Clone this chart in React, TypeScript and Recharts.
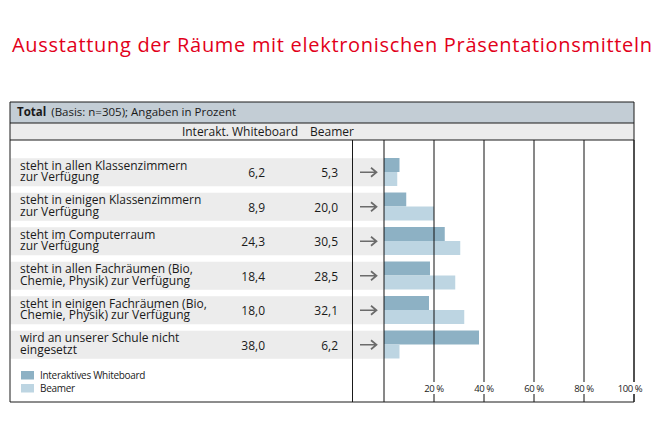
import { BarChart, Bar, XAxis, YAxis } from 'recharts';

const categories = [
  'steht in allen Klassenzimmern\nzur Verfügung',
  'steht in einigen Klassenzimmern\nzur Verfügung',
  'steht im Computerraum\nzur Verfügung',
  'steht in allen Fachräumen (Bio,\nChemie, Physik) zur Verfügung',
  'steht in einigen Fachräumen (Bio,\nChemie, Physik) zur Verfügung',
  'wird an unserer Schule nicht\neingesetzt',
];
const whiteboard = [6.2, 8.9, 24.3, 18.4, 18.0, 38.0];
const beamer = [5.3, 20.0, 30.5, 28.5, 32.1, 6.2];
const seriesNames = ['Interaktives Whiteboard', 'Beamer'];
const seriesColors = ['#8db1c4', '#bdd5e2'];
const columnHeads = ['Interakt. Whiteboard', 'Beamer'];
const xTicks = [0, 20, 40, 60, 80, 100];

const title = 'Ausstattung der Räume mit elektronischen Präsentationsmitteln';
const FONT = '"Open Sans", "Noto Sans", sans-serif';

const data = categories.map((label, i) => ({
  label,
  whiteboard: whiteboard[i],
  beamer: beamer[i],
}));

const fmt = (v: number) => v.toFixed(1).replace('.', ',');

// row label + values + arrow, drawn on the category tick
function RowTick(props: any) {
  const { y, payload } = props;
  const i = props.index ?? payload.index ?? 0;
  const lines = String(payload.value).split('\n');
  return (
    <g fontFamily={FONT}>
      <rect x={10.5} y={y - 14} width={373} height={28} fill="#ececec" />
      {lines.map((l, k) => (
        <text key={k} x={20} y={y - 2.5 + k * 11.5} fontSize={12} fill="#1a1a1a">{l}</text>
      ))}
      <text x={265} y={y + 5} fontSize={12} fill="#1a1a1a" textAnchor="end">
        {fmt(whiteboard[i])}
      </text>
      <text x={338} y={y + 5} fontSize={12} fill="#1a1a1a" textAnchor="end">
        {fmt(beamer[i])}
      </text>
      <path
        d={`M360,${y} H376 M371,${y - 4.5} L376.5,${y} L371,${y + 4.5}`}
        stroke="#6b6b6b"
        strokeWidth={1.7}
        fill="none"
      />
    </g>
  );
}

// full height grid line with the percent label
function GridTick(props: any) {
  const { x, payload } = props;
  return (
    <g fontFamily={FONT}>
      <line x1={x} x2={x} y1={140} y2={402} stroke="#111" strokeWidth={1} />
      {payload.value > 0 && (
        <>
          <rect x={x - 13} y={382} width={26} height={12} fill="#fff" />
          <text x={x - (payload.value === 100 ? 4 : 0)} y={392} fontSize={9.5} fill="#222" textAnchor="middle" letterSpacing={-0.4}>
            {payload.value} %
          </text>
        </>
      )}
    </g>
  );
}

export default function App() {
  return (
    <div style={{ position: 'absolute', left: 0, top: 0, width: 660, height: 440, background: '#fff' }}>
      <div style={{ position: 'absolute', left: 0, top: 0 }}>
        <BarChart
          width={660}
          height={440}
          data={data}
          layout="vertical"
          margin={{ top: 155, right: 26, bottom: 48, left: 10 }}
          barGap={0}
        >
          <YAxis
            type="category"
            dataKey="label"
            width={374}
            tick={RowTick}
            axisLine={false}
            tickLine={false}
            interval={0}
          />
          <Bar dataKey="whiteboard" name={seriesNames[0]} fill={seriesColors[0]} barSize={14} isAnimationActive={false} />
          <Bar dataKey="beamer" name={seriesNames[1]} fill={seriesColors[1]} barSize={14} isAnimationActive={false} />
          <XAxis
            type="number"
            domain={[0, 100]}
            ticks={xTicks}
            interval={0}
            height={30}
            tick={GridTick}
            axisLine={false}
            tickLine={false}
          />
        </BarChart>
      </div>
      <svg width={660} height={440} style={{ position: 'absolute', left: 0, top: 0, pointerEvents: 'none' }} fontFamily={FONT}>
        <text x={12} y={52} fontSize={20} fill="#e2001a" textLength={640} lengthAdjust="spacing">
          {title}
        </text>
        <rect x={10} y={102} width={624} height={21} fill="#c3cdd5" />
        <rect x={10} y={123} width={624} height={17} fill="#ececec" />
        <text x={17} y={116} fontSize={11.5} fill="#1a1a1a">
          <tspan fontWeight="bold">Total</tspan>
          <tspan dx={5}>(Basis: n=305); Angaben in Prozent</tspan>
        </text>
        <text x={298} y={136} fontSize={12} fill="#1a1a1a" textAnchor="end">{columnHeads[0]}</text>
        <text x={310} y={136} fontSize={12} fill="#1a1a1a">{columnHeads[1]}</text>
        <line x1={10} x2={634} y1={123} y2={123} stroke="#1a1a1a" />
        <line x1={10} x2={634} y1={140} y2={140} stroke="#1a1a1a" />
        <line x1={352.5} x2={352.5} y1={140} y2={402} stroke="#1a1a1a" />
        <path
          d="M634,382 V102 H10 V402 H634 V394"
          fill="none"
          stroke="#1a1a1a"
        />
        {seriesNames.map((name, i) => (
          <g key={name}>
            <rect x={21} y={371 + i * 13} width={13} height={8.5} fill={seriesColors[i]} />
            <text x={40} y={379 + i * 13} fontSize={10} fill="#222" letterSpacing={-0.3}>{name}</text>
          </g>
        ))}
      </svg>
    </div>
  );
}
